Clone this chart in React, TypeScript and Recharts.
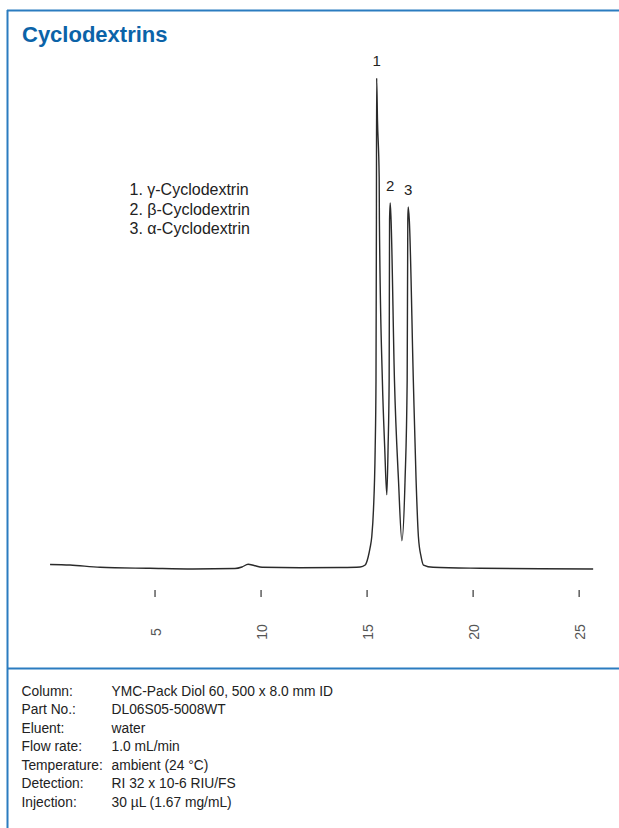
import React from 'react';
import { LineChart, Line, XAxis, YAxis, ReferenceDot } from 'recharts';

// Retention time (min) and detector signal (relative units, apex of peak 1 = 100)
const timeMin = [
  0.05, 0.99, 2.41, 4.76, 6.79, 8.77, 9.1, 9.39, 9.67, 10.05, 11.84, 13.73, 14.67,
  14.91, 15.05, 15.14, 15.22, 15.3, 15.38, 15.42, 15.44, 15.45, 15.49, 15.57, 15.58,
  15.72, 15.83, 15.93, 15.99, 16.04, 16.06, 16.09, 16.13, 16.29, 16.48, 16.64, 16.79,
  16.89, 16.92, 16.94, 16.99, 17.18, 17.31, 17.42, 17.55, 17.66, 18.11, 20.33, 23.16, 25.66,
];
const signal = [
  0.78, 0.67, 0.2, 0, -0.14, -0.04, 0.27, 0.82, 0.57, 0.2, 0.1, 0.16, 0.27,
  0.67, 2.3, 4.14, 6.44, 11.9, 24.1, 38.4, 71.1, 100, 91.4, 79.8, 71.1,
  38.4, 24.7, 15.0, 24.7, 38.4, 71.1, 74.5, 71.1, 38.4, 18.0, 5.63, 18.0,
  38.4, 71.1, 73.7, 71.1, 38.4, 18.0, 6.44, 2.3, 0.67, 0.2, 0, -0.1, -0.14,
];

const peakNames = ['1', '2', '3'];
const peakTimes = [15.45, 16.09, 16.94];
const peakHeights = [100, 74.5, 73.7];

const xTicks = [5, 10, 15, 20, 25];

const compounds = ['1. γ-Cyclodextrin', '2. β-Cyclodextrin', '3. α-Cyclodextrin'];

const conditionLabels = ['Column:', 'Part No.:', 'Eluent:', 'Flow rate:', 'Temperature:', 'Detection:', 'Injection:'];
const conditionValues = [
  'YMC-Pack Diol 60, 500 x 8.0 mm ID',
  'DL06S05-5008WT',
  'water',
  '1.0 mL/min',
  'ambient (24 °C)',
  'RI 32 x 10-6 RIU/FS',
  '30 µL (1.67 mg/mL)',
];

const data = timeMin.map((t, i) => ({ t, v: signal[i] }));

const FONT = '"Liberation Sans", Arial, Helvetica, sans-serif';
const BLUE = '#2b7cc0';
const TITLE_BLUE = '#0b63a8';

function TimeTick(props: any) {
  const { x, y, payload } = props;
  return (
    <g>
      <line x1={x} x2={x} y1={y + 7} y2={y + 14} stroke="#444" strokeWidth={1.3} />
      <text
        transform={`translate(${x + 1},${y + 49}) rotate(-90)`}
        textAnchor="middle"
        dy="0.35em"
        fontSize={14}
        fill="#555"
        fontFamily={FONT}
      >
        {payload.value}
      </text>
    </g>
  );
}

export default function App() {
  return (
    <div
      style={{
        position: 'absolute',
        left: 0,
        top: 0,
        width: 619,
        height: 828,
        overflow: 'hidden',
        background: '#fff',
      }}
    >
      <svg
        width={619}
        height={828}
        style={{ position: 'absolute', left: 0, top: 0 }}
        fontFamily={FONT}
      >
        <line x1={7.5} x2={7.5} y1={10} y2={828} stroke={BLUE} strokeWidth={2} />
        <line x1={7} x2={619} y1={10.5} y2={10.5} stroke={BLUE} strokeWidth={2} />
        <line x1={7} x2={619} y1={668.5} y2={668.5} stroke={BLUE} strokeWidth={2} />
        <text x={22} y={42} fontSize={22} fontWeight="bold" fill={TITLE_BLUE}>
          Cyclodextrins
        </text>
        {compounds.map((c, i) => (
          <text key={c} x={129.5} y={195 + i * 19.5} fontSize={16} fill="#222">
            {c}
          </text>
        ))}
        {conditionLabels.map((l, i) => (
          <text key={l} x={21.5} y={696 + i * 18.45} fontSize={13.8} fill="#222">
            {l}
          </text>
        ))}
        {conditionValues.map((v, i) => (
          <text key={v} x={111.5} y={696 + i * 18.45} fontSize={13.8} fill="#222">
            {v}
          </text>
        ))}
      </svg>
      <div style={{ position: 'absolute', left: 0, top: 0 }}>
        <LineChart
          width={619}
          height={660}
          data={data}
          margin={{ top: 78, right: 25, bottom: 17, left: 49 }}
        >
          <XAxis
            dataKey="t"
            type="number"
            domain={[0, 25.7]}
            ticks={xTicks}
            axisLine={false}
            tickLine={false}
            tickSize={0}
            tickMargin={0}
            height={60}
            tick={<TimeTick />}
            interval={0}
          />
          <YAxis type="number" domain={[-3, 100]} hide allowDataOverflow />
          <Line
            type="monotone"
            dataKey="v"
            stroke="#2a2a2a"
            strokeWidth={1.4}
            dot={false}
            isAnimationActive={false}
          />
          {peakNames.map((n, i) => (
            <ReferenceDot
              key={n}
              x={peakTimes[i]}
              y={peakHeights[i]}
              r={0}
              fill="none"
              stroke="none"
              label={{ value: n, position: 'top', offset: 12, fontSize: 15, fill: '#222', fontFamily: FONT }}
            />
          ))}
        </LineChart>
      </div>
    </div>
  );
}
